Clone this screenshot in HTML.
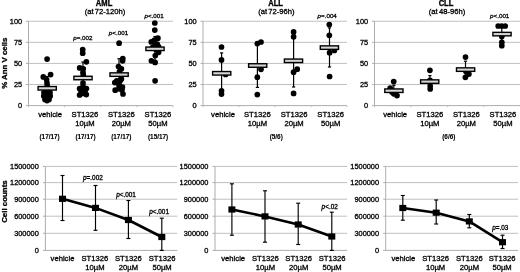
<!DOCTYPE html>
<html><head><meta charset="utf-8"><title>Figure</title>
<style>
html,body{margin:0;padding:0;background:#fff;}
body{width:520px;height:272px;overflow:hidden;}
svg{display:block;font-family:"Liberation Sans",Arial,Helvetica,sans-serif;fill:#000;}
text{stroke:#000;stroke-width:0.3px;}
text.n{stroke-width:0.1px;}
text.p{stroke-width:0.3px;}
</style></head><body>
<svg width="520" height="272" viewBox="0 0 520 272">
<rect x="0" y="0" width="520" height="272" fill="#fff"/>
<line x1="28.50" y1="84.51" x2="173.00" y2="84.51" stroke="#c0c0c0" stroke-width="1"/>
<line x1="28.50" y1="63.42" x2="173.00" y2="63.42" stroke="#c0c0c0" stroke-width="1"/>
<line x1="28.50" y1="42.34" x2="173.00" y2="42.34" stroke="#c0c0c0" stroke-width="1"/>
<line x1="28.50" y1="21.25" x2="173.00" y2="21.25" stroke="#c0c0c0" stroke-width="1"/>
<line x1="28.50" y1="21.25" x2="28.50" y2="105.60" stroke="#adadad" stroke-width="1"/>
<line x1="28.50" y1="105.60" x2="173.00" y2="105.60" stroke="#adadad" stroke-width="1"/>
<line x1="26.00" y1="105.60" x2="28.50" y2="105.60" stroke="#adadad" stroke-width="1"/>
<text x="22.20" y="107.90" font-size="7.4" text-anchor="end">0</text>
<line x1="26.00" y1="84.51" x2="28.50" y2="84.51" stroke="#adadad" stroke-width="1"/>
<text x="22.20" y="86.81" font-size="7.4" text-anchor="end">25</text>
<line x1="26.00" y1="63.42" x2="28.50" y2="63.42" stroke="#adadad" stroke-width="1"/>
<text x="22.20" y="65.72" font-size="7.4" text-anchor="end">50</text>
<line x1="26.00" y1="42.34" x2="28.50" y2="42.34" stroke="#adadad" stroke-width="1"/>
<text x="22.20" y="44.64" font-size="7.4" text-anchor="end">75</text>
<line x1="26.00" y1="21.25" x2="28.50" y2="21.25" stroke="#adadad" stroke-width="1"/>
<text x="22.20" y="23.55" font-size="7.4" text-anchor="end">100</text>
<line x1="28.50" y1="105.60" x2="28.50" y2="107.20" stroke="#c0c0c0" stroke-width="1"/>
<line x1="64.62" y1="105.60" x2="64.62" y2="107.20" stroke="#c0c0c0" stroke-width="1"/>
<line x1="100.75" y1="105.60" x2="100.75" y2="107.20" stroke="#c0c0c0" stroke-width="1"/>
<line x1="136.88" y1="105.60" x2="136.88" y2="107.20" stroke="#c0c0c0" stroke-width="1"/>
<line x1="173.00" y1="105.60" x2="173.00" y2="107.20" stroke="#c0c0c0" stroke-width="1"/>
<text x="50.10" y="116.70" font-size="7.65" text-anchor="middle">vehicle</text>
<text x="85.00" y="116.70" font-size="7.65" text-anchor="middle">ST1326</text>
<text x="85.00" y="126.10" font-size="7.65" text-anchor="middle">10µM</text>
<text x="121.30" y="116.70" font-size="7.65" text-anchor="middle">ST1326</text>
<text x="121.30" y="126.10" font-size="7.65" text-anchor="middle">20µM</text>
<text x="158.00" y="116.70" font-size="7.65" text-anchor="middle">ST1326</text>
<text x="158.00" y="126.10" font-size="7.65" text-anchor="middle">50µM</text>
<text transform="translate(104.05,5.80) scale(1,1.12)" font-size="7.6" font-weight="bold" text-anchor="middle">AML</text>
<text x="105.00" y="14.30" font-size="7.65" text-anchor="middle" word-spacing="-0.9">(at 72-120h)</text>
<text x="49.60" y="139.10" font-size="6.4" text-anchor="middle" font-weight="bold" class="n">(17/17)</text>
<text x="85.50" y="139.10" font-size="6.4" text-anchor="middle" font-weight="bold" class="n">(17/17)</text>
<text x="121.30" y="139.10" font-size="6.4" text-anchor="middle" font-weight="bold" class="n">(17/17)</text>
<text x="158.10" y="139.10" font-size="6.4" text-anchor="middle" font-weight="bold" class="n">(15/17)</text>
<text transform="translate(6.9,63.2) rotate(-90)" font-size="7.85" font-weight="bold" text-anchor="middle">% Ann V cells</text>
<line x1="47.20" y1="76.50" x2="47.20" y2="100.00" stroke="#000" stroke-width="1.2"/>
<line x1="45.60" y1="76.50" x2="48.80" y2="76.50" stroke="#000" stroke-width="1.2"/>
<line x1="45.60" y1="100.00" x2="48.80" y2="100.00" stroke="#000" stroke-width="1.2"/>
<line x1="83.00" y1="62.00" x2="83.00" y2="94.00" stroke="#000" stroke-width="1.2"/>
<line x1="81.40" y1="62.00" x2="84.60" y2="62.00" stroke="#000" stroke-width="1.2"/>
<line x1="81.40" y1="94.00" x2="84.60" y2="94.00" stroke="#000" stroke-width="1.2"/>
<line x1="119.00" y1="58.70" x2="119.00" y2="91.00" stroke="#000" stroke-width="1.2"/>
<line x1="117.40" y1="58.70" x2="120.60" y2="58.70" stroke="#000" stroke-width="1.2"/>
<line x1="117.40" y1="91.00" x2="120.60" y2="91.00" stroke="#000" stroke-width="1.2"/>
<line x1="155.00" y1="36.50" x2="155.00" y2="61.00" stroke="#000" stroke-width="1.2"/>
<line x1="153.40" y1="36.50" x2="156.60" y2="36.50" stroke="#000" stroke-width="1.2"/>
<line x1="153.40" y1="61.00" x2="156.60" y2="61.00" stroke="#000" stroke-width="1.2"/>
<circle cx="47.10" cy="59.10" r="2.85" fill="#000"/>
<circle cx="50.60" cy="74.60" r="2.85" fill="#000"/>
<circle cx="43.30" cy="76.90" r="2.85" fill="#000"/>
<circle cx="46.60" cy="79.50" r="2.85" fill="#000"/>
<circle cx="47.00" cy="83.00" r="2.85" fill="#000"/>
<circle cx="47.20" cy="86.00" r="2.85" fill="#000"/>
<circle cx="47.00" cy="91.00" r="2.85" fill="#000"/>
<circle cx="44.00" cy="92.50" r="2.85" fill="#000"/>
<circle cx="50.00" cy="92.50" r="2.85" fill="#000"/>
<circle cx="43.80" cy="96.00" r="2.85" fill="#000"/>
<circle cx="50.20" cy="96.00" r="2.85" fill="#000"/>
<circle cx="47.00" cy="95.50" r="2.85" fill="#000"/>
<circle cx="47.00" cy="98.00" r="2.85" fill="#000"/>
<circle cx="45.00" cy="99.50" r="2.85" fill="#000"/>
<circle cx="49.00" cy="99.50" r="2.85" fill="#000"/>
<circle cx="47.00" cy="100.60" r="2.85" fill="#000"/>
<circle cx="46.00" cy="93.00" r="2.85" fill="#000"/>
<circle cx="82.70" cy="49.60" r="2.85" fill="#000"/>
<circle cx="82.70" cy="53.20" r="2.85" fill="#000"/>
<circle cx="86.40" cy="61.80" r="2.85" fill="#000"/>
<circle cx="79.70" cy="67.90" r="2.85" fill="#000"/>
<circle cx="83.20" cy="68.80" r="2.85" fill="#000"/>
<circle cx="83.00" cy="72.50" r="2.85" fill="#000"/>
<circle cx="83.30" cy="75.00" r="2.85" fill="#000"/>
<circle cx="83.00" cy="83.00" r="2.85" fill="#000"/>
<circle cx="83.00" cy="86.50" r="2.85" fill="#000"/>
<circle cx="79.60" cy="88.60" r="2.85" fill="#000"/>
<circle cx="86.40" cy="88.60" r="2.85" fill="#000"/>
<circle cx="83.00" cy="91.50" r="2.85" fill="#000"/>
<circle cx="79.60" cy="95.00" r="2.85" fill="#000"/>
<circle cx="86.30" cy="94.60" r="2.85" fill="#000"/>
<circle cx="83.00" cy="93.50" r="2.85" fill="#000"/>
<circle cx="81.00" cy="91.00" r="2.85" fill="#000"/>
<circle cx="85.00" cy="91.00" r="2.85" fill="#000"/>
<circle cx="119.10" cy="43.20" r="2.85" fill="#000"/>
<circle cx="122.80" cy="58.50" r="2.85" fill="#000"/>
<circle cx="122.60" cy="60.80" r="2.85" fill="#000"/>
<circle cx="118.50" cy="66.50" r="2.85" fill="#000"/>
<circle cx="121.40" cy="68.80" r="2.85" fill="#000"/>
<circle cx="119.50" cy="71.50" r="2.85" fill="#000"/>
<circle cx="121.40" cy="79.00" r="2.85" fill="#000"/>
<circle cx="116.80" cy="80.80" r="2.85" fill="#000"/>
<circle cx="114.80" cy="82.60" r="2.85" fill="#000"/>
<circle cx="119.00" cy="84.70" r="2.85" fill="#000"/>
<circle cx="122.40" cy="87.00" r="2.85" fill="#000"/>
<circle cx="115.20" cy="90.20" r="2.85" fill="#000"/>
<circle cx="122.00" cy="90.00" r="2.85" fill="#000"/>
<circle cx="123.00" cy="94.00" r="2.85" fill="#000"/>
<circle cx="119.00" cy="88.00" r="2.85" fill="#000"/>
<circle cx="118.00" cy="82.00" r="2.85" fill="#000"/>
<circle cx="120.00" cy="81.00" r="2.85" fill="#000"/>
<circle cx="154.80" cy="23.00" r="2.85" fill="#000"/>
<circle cx="154.80" cy="30.10" r="2.85" fill="#000"/>
<circle cx="157.90" cy="38.20" r="2.85" fill="#000"/>
<circle cx="154.50" cy="40.00" r="2.85" fill="#000"/>
<circle cx="151.30" cy="41.90" r="2.85" fill="#000"/>
<circle cx="157.20" cy="44.00" r="2.85" fill="#000"/>
<circle cx="155.00" cy="45.50" r="2.85" fill="#000"/>
<circle cx="158.50" cy="46.50" r="2.85" fill="#000"/>
<circle cx="152.50" cy="47.50" r="2.85" fill="#000"/>
<circle cx="158.60" cy="52.30" r="2.85" fill="#000"/>
<circle cx="155.30" cy="55.60" r="2.85" fill="#000"/>
<circle cx="151.40" cy="60.80" r="2.85" fill="#000"/>
<circle cx="155.10" cy="62.40" r="2.85" fill="#000"/>
<circle cx="155.10" cy="80.80" r="2.85" fill="#000"/>
<circle cx="156.00" cy="49.50" r="2.85" fill="#000"/>
<rect x="38.10" y="86.55" width="18.2" height="3.5" fill="#d6d6d6" stroke="#000" stroke-width="1.4"/>
<rect x="73.90" y="76.25" width="18.2" height="3.5" fill="#d6d6d6" stroke="#000" stroke-width="1.4"/>
<rect x="110.00" y="72.85" width="18.2" height="3.5" fill="#d6d6d6" stroke="#000" stroke-width="1.4"/>
<rect x="145.90" y="47.05" width="18.2" height="3.5" fill="#d6d6d6" stroke="#000" stroke-width="1.4"/>
<text class="p" x="82.80" y="40.00" font-size="6.25" text-anchor="middle"><tspan font-style="italic">p</tspan>=.002</text>
<text class="p" x="118.50" y="35.00" font-size="6.25" text-anchor="middle"><tspan font-style="italic">p</tspan>&lt;.001</text>
<text class="p" x="154.10" y="18.00" font-size="6.25" text-anchor="middle"><tspan font-style="italic">p</tspan>&lt;.001</text>
<line x1="203.00" y1="84.51" x2="347.00" y2="84.51" stroke="#c0c0c0" stroke-width="1"/>
<line x1="203.00" y1="63.42" x2="347.00" y2="63.42" stroke="#c0c0c0" stroke-width="1"/>
<line x1="203.00" y1="42.34" x2="347.00" y2="42.34" stroke="#c0c0c0" stroke-width="1"/>
<line x1="203.00" y1="21.25" x2="347.00" y2="21.25" stroke="#c0c0c0" stroke-width="1"/>
<line x1="203.00" y1="21.25" x2="203.00" y2="105.60" stroke="#adadad" stroke-width="1"/>
<line x1="203.00" y1="105.60" x2="347.00" y2="105.60" stroke="#adadad" stroke-width="1"/>
<line x1="200.50" y1="105.60" x2="203.00" y2="105.60" stroke="#adadad" stroke-width="1"/>
<text x="196.70" y="107.90" font-size="7.4" text-anchor="end">0</text>
<line x1="200.50" y1="84.51" x2="203.00" y2="84.51" stroke="#adadad" stroke-width="1"/>
<text x="196.70" y="86.81" font-size="7.4" text-anchor="end">25</text>
<line x1="200.50" y1="63.42" x2="203.00" y2="63.42" stroke="#adadad" stroke-width="1"/>
<text x="196.70" y="65.72" font-size="7.4" text-anchor="end">50</text>
<line x1="200.50" y1="42.34" x2="203.00" y2="42.34" stroke="#adadad" stroke-width="1"/>
<text x="196.70" y="44.64" font-size="7.4" text-anchor="end">75</text>
<line x1="200.50" y1="21.25" x2="203.00" y2="21.25" stroke="#adadad" stroke-width="1"/>
<text x="196.70" y="23.55" font-size="7.4" text-anchor="end">100</text>
<line x1="203.00" y1="105.60" x2="203.00" y2="107.20" stroke="#c0c0c0" stroke-width="1"/>
<line x1="239.00" y1="105.60" x2="239.00" y2="107.20" stroke="#c0c0c0" stroke-width="1"/>
<line x1="275.00" y1="105.60" x2="275.00" y2="107.20" stroke="#c0c0c0" stroke-width="1"/>
<line x1="311.00" y1="105.60" x2="311.00" y2="107.20" stroke="#c0c0c0" stroke-width="1"/>
<line x1="347.00" y1="105.60" x2="347.00" y2="107.20" stroke="#c0c0c0" stroke-width="1"/>
<text x="223.00" y="116.70" font-size="7.65" text-anchor="middle">vehicle</text>
<text x="257.40" y="116.70" font-size="7.65" text-anchor="middle">ST1326</text>
<text x="257.40" y="126.10" font-size="7.65" text-anchor="middle">10µM</text>
<text x="294.10" y="116.70" font-size="7.65" text-anchor="middle">ST1326</text>
<text x="294.10" y="126.10" font-size="7.65" text-anchor="middle">20µM</text>
<text x="330.70" y="116.70" font-size="7.65" text-anchor="middle">ST1326</text>
<text x="330.70" y="126.10" font-size="7.65" text-anchor="middle">50µM</text>
<text transform="translate(275.60,5.80) scale(1,1.12)" font-size="7.6" font-weight="bold" text-anchor="middle">ALL</text>
<text x="276.40" y="14.30" font-size="7.65" text-anchor="middle" word-spacing="-0.9">(at 72-96h)</text>
<text x="276.20" y="139.10" font-size="6.4" text-anchor="middle" font-weight="bold" class="n">(5/6)</text>
<line x1="221.60" y1="52.90" x2="221.60" y2="91.00" stroke="#000" stroke-width="1.2"/>
<line x1="220.00" y1="52.90" x2="223.20" y2="52.90" stroke="#000" stroke-width="1.2"/>
<line x1="220.00" y1="91.00" x2="223.20" y2="91.00" stroke="#000" stroke-width="1.2"/>
<line x1="257.40" y1="43.00" x2="257.40" y2="87.40" stroke="#000" stroke-width="1.2"/>
<line x1="255.80" y1="43.00" x2="259.00" y2="43.00" stroke="#000" stroke-width="1.2"/>
<line x1="255.80" y1="87.40" x2="259.00" y2="87.40" stroke="#000" stroke-width="1.2"/>
<line x1="293.60" y1="34.00" x2="293.60" y2="87.00" stroke="#000" stroke-width="1.2"/>
<line x1="292.00" y1="34.00" x2="295.20" y2="34.00" stroke="#000" stroke-width="1.2"/>
<line x1="292.00" y1="87.00" x2="295.20" y2="87.00" stroke="#000" stroke-width="1.2"/>
<line x1="329.50" y1="27.90" x2="329.50" y2="67.00" stroke="#000" stroke-width="1.2"/>
<line x1="327.90" y1="27.90" x2="331.10" y2="27.90" stroke="#000" stroke-width="1.2"/>
<line x1="327.90" y1="67.00" x2="331.10" y2="67.00" stroke="#000" stroke-width="1.2"/>
<circle cx="221.50" cy="47.00" r="2.85" fill="#000"/>
<circle cx="221.50" cy="59.90" r="2.85" fill="#000"/>
<circle cx="225.60" cy="74.50" r="2.85" fill="#000"/>
<circle cx="221.50" cy="90.80" r="2.85" fill="#000"/>
<circle cx="221.50" cy="94.10" r="2.85" fill="#000"/>
<circle cx="257.30" cy="43.60" r="2.85" fill="#000"/>
<circle cx="261.00" cy="42.00" r="2.85" fill="#000"/>
<circle cx="261.00" cy="69.30" r="2.85" fill="#000"/>
<circle cx="257.30" cy="77.20" r="2.85" fill="#000"/>
<circle cx="257.30" cy="94.60" r="2.85" fill="#000"/>
<circle cx="293.60" cy="31.90" r="2.85" fill="#000"/>
<circle cx="293.60" cy="36.80" r="2.85" fill="#000"/>
<circle cx="297.20" cy="69.20" r="2.85" fill="#000"/>
<circle cx="293.60" cy="72.20" r="2.85" fill="#000"/>
<circle cx="293.60" cy="93.40" r="2.85" fill="#000"/>
<circle cx="329.30" cy="24.60" r="2.85" fill="#000"/>
<circle cx="329.30" cy="35.30" r="2.85" fill="#000"/>
<circle cx="334.40" cy="50.40" r="2.85" fill="#000"/>
<circle cx="329.60" cy="52.70" r="2.85" fill="#000"/>
<circle cx="329.60" cy="76.50" r="2.85" fill="#000"/>
<rect x="212.60" y="71.55" width="18.2" height="3.5" fill="#d6d6d6" stroke="#000" stroke-width="1.4"/>
<rect x="248.60" y="63.75" width="18.2" height="3.5" fill="#d6d6d6" stroke="#000" stroke-width="1.4"/>
<rect x="284.40" y="59.05" width="18.2" height="3.5" fill="#d6d6d6" stroke="#000" stroke-width="1.4"/>
<rect x="320.30" y="45.85" width="18.2" height="3.5" fill="#d6d6d6" stroke="#000" stroke-width="1.4"/>
<text class="p" x="327.20" y="18.00" font-size="6.25" text-anchor="middle"><tspan font-style="italic">p</tspan>=.004</text>
<line x1="374.50" y1="84.51" x2="520.00" y2="84.51" stroke="#c0c0c0" stroke-width="1"/>
<line x1="374.50" y1="63.42" x2="520.00" y2="63.42" stroke="#c0c0c0" stroke-width="1"/>
<line x1="374.50" y1="42.34" x2="520.00" y2="42.34" stroke="#c0c0c0" stroke-width="1"/>
<line x1="374.50" y1="21.25" x2="520.00" y2="21.25" stroke="#c0c0c0" stroke-width="1"/>
<line x1="374.50" y1="21.25" x2="374.50" y2="105.60" stroke="#adadad" stroke-width="1"/>
<line x1="374.50" y1="105.60" x2="520.00" y2="105.60" stroke="#adadad" stroke-width="1"/>
<line x1="372.00" y1="105.60" x2="374.50" y2="105.60" stroke="#adadad" stroke-width="1"/>
<text x="368.20" y="107.90" font-size="7.4" text-anchor="end">0</text>
<line x1="372.00" y1="84.51" x2="374.50" y2="84.51" stroke="#adadad" stroke-width="1"/>
<text x="368.20" y="86.81" font-size="7.4" text-anchor="end">25</text>
<line x1="372.00" y1="63.42" x2="374.50" y2="63.42" stroke="#adadad" stroke-width="1"/>
<text x="368.20" y="65.72" font-size="7.4" text-anchor="end">50</text>
<line x1="372.00" y1="42.34" x2="374.50" y2="42.34" stroke="#adadad" stroke-width="1"/>
<text x="368.20" y="44.64" font-size="7.4" text-anchor="end">75</text>
<line x1="372.00" y1="21.25" x2="374.50" y2="21.25" stroke="#adadad" stroke-width="1"/>
<text x="368.20" y="23.55" font-size="7.4" text-anchor="end">100</text>
<line x1="374.50" y1="105.60" x2="374.50" y2="107.20" stroke="#c0c0c0" stroke-width="1"/>
<line x1="410.88" y1="105.60" x2="410.88" y2="107.20" stroke="#c0c0c0" stroke-width="1"/>
<line x1="447.25" y1="105.60" x2="447.25" y2="107.20" stroke="#c0c0c0" stroke-width="1"/>
<line x1="483.62" y1="105.60" x2="483.62" y2="107.20" stroke="#c0c0c0" stroke-width="1"/>
<text x="395.20" y="116.70" font-size="7.65" text-anchor="middle">vehicle</text>
<text x="429.80" y="116.70" font-size="7.65" text-anchor="middle">ST1326</text>
<text x="429.80" y="126.10" font-size="7.65" text-anchor="middle">10µM</text>
<text x="466.30" y="116.70" font-size="7.65" text-anchor="middle">ST1326</text>
<text x="466.30" y="126.10" font-size="7.65" text-anchor="middle">20µM</text>
<text x="503.00" y="116.70" font-size="7.65" text-anchor="middle">ST1326</text>
<text x="503.00" y="126.10" font-size="7.65" text-anchor="middle">50µM</text>
<text transform="translate(446.00,5.80) scale(1,1.12)" font-size="7.6" font-weight="bold" text-anchor="middle">CLL</text>
<text x="447.00" y="14.30" font-size="7.65" text-anchor="middle" word-spacing="-0.9">(at 48-96h)</text>
<text x="448.80" y="139.10" font-size="6.4" text-anchor="middle" font-weight="bold" class="n">(6/6)</text>
<line x1="393.80" y1="85.30" x2="393.80" y2="95.00" stroke="#000" stroke-width="1.2"/>
<line x1="392.20" y1="85.30" x2="395.40" y2="85.30" stroke="#000" stroke-width="1.2"/>
<line x1="392.20" y1="95.00" x2="395.40" y2="95.00" stroke="#000" stroke-width="1.2"/>
<line x1="429.90" y1="75.60" x2="429.90" y2="88.00" stroke="#000" stroke-width="1.2"/>
<line x1="428.30" y1="75.60" x2="431.50" y2="75.60" stroke="#000" stroke-width="1.2"/>
<line x1="428.30" y1="88.00" x2="431.50" y2="88.00" stroke="#000" stroke-width="1.2"/>
<line x1="465.50" y1="61.20" x2="465.50" y2="77.00" stroke="#000" stroke-width="1.2"/>
<line x1="463.90" y1="61.20" x2="467.10" y2="61.20" stroke="#000" stroke-width="1.2"/>
<line x1="463.90" y1="77.00" x2="467.10" y2="77.00" stroke="#000" stroke-width="1.2"/>
<line x1="501.80" y1="27.50" x2="501.80" y2="41.00" stroke="#000" stroke-width="1.2"/>
<line x1="500.20" y1="27.50" x2="503.40" y2="27.50" stroke="#000" stroke-width="1.2"/>
<line x1="500.20" y1="41.00" x2="503.40" y2="41.00" stroke="#000" stroke-width="1.2"/>
<circle cx="393.70" cy="81.60" r="2.85" fill="#000"/>
<circle cx="390.20" cy="88.20" r="2.85" fill="#000"/>
<circle cx="393.80" cy="93.80" r="2.85" fill="#000"/>
<circle cx="397.00" cy="95.60" r="2.85" fill="#000"/>
<circle cx="395.00" cy="92.50" r="2.85" fill="#000"/>
<circle cx="392.00" cy="92.00" r="2.85" fill="#000"/>
<circle cx="429.90" cy="70.30" r="2.85" fill="#000"/>
<circle cx="430.00" cy="80.40" r="2.85" fill="#000"/>
<circle cx="430.20" cy="86.00" r="2.85" fill="#000"/>
<circle cx="430.20" cy="89.00" r="2.85" fill="#000"/>
<circle cx="465.50" cy="57.10" r="2.85" fill="#000"/>
<circle cx="468.90" cy="74.10" r="2.85" fill="#000"/>
<circle cx="465.40" cy="77.30" r="2.85" fill="#000"/>
<circle cx="466.00" cy="71.50" r="2.85" fill="#000"/>
<circle cx="498.20" cy="26.00" r="2.85" fill="#000"/>
<circle cx="501.70" cy="26.00" r="2.85" fill="#000"/>
<circle cx="505.20" cy="26.00" r="2.85" fill="#000"/>
<circle cx="501.80" cy="36.60" r="2.85" fill="#000"/>
<circle cx="501.80" cy="42.30" r="2.85" fill="#000"/>
<circle cx="501.80" cy="45.70" r="2.85" fill="#000"/>
<rect x="384.80" y="88.95" width="18.2" height="3.5" fill="#d6d6d6" stroke="#000" stroke-width="1.4"/>
<rect x="420.60" y="79.85" width="18.2" height="3.5" fill="#d6d6d6" stroke="#000" stroke-width="1.4"/>
<rect x="456.50" y="67.85" width="18.2" height="3.5" fill="#d6d6d6" stroke="#000" stroke-width="1.4"/>
<rect x="492.90" y="32.35" width="18.2" height="3.5" fill="#d6d6d6" stroke="#000" stroke-width="1.4"/>
<text class="p" x="499.70" y="18.00" font-size="6.25" text-anchor="middle"><tspan font-style="italic">p</tspan>&lt;.001</text>
<line x1="45.40" y1="233.30" x2="177.30" y2="233.30" stroke="#c0c0c0" stroke-width="1"/>
<line x1="45.40" y1="216.20" x2="177.30" y2="216.20" stroke="#c0c0c0" stroke-width="1"/>
<line x1="45.40" y1="199.20" x2="177.30" y2="199.20" stroke="#c0c0c0" stroke-width="1"/>
<line x1="45.40" y1="182.60" x2="177.30" y2="182.60" stroke="#c0c0c0" stroke-width="1"/>
<line x1="45.40" y1="166.40" x2="177.30" y2="166.40" stroke="#c0c0c0" stroke-width="1"/>
<line x1="45.40" y1="166.50" x2="45.40" y2="250.40" stroke="#adadad" stroke-width="1"/>
<line x1="45.40" y1="250.40" x2="177.30" y2="250.40" stroke="#adadad" stroke-width="1"/>
<line x1="42.90" y1="250.40" x2="45.40" y2="250.40" stroke="#adadad" stroke-width="1"/>
<text x="38.80" y="252.70" font-size="7.4" text-anchor="end">0</text>
<line x1="42.90" y1="233.30" x2="45.40" y2="233.30" stroke="#adadad" stroke-width="1"/>
<text x="38.80" y="235.60" font-size="7.4" text-anchor="end">300000</text>
<line x1="42.90" y1="216.20" x2="45.40" y2="216.20" stroke="#adadad" stroke-width="1"/>
<text x="38.80" y="218.50" font-size="7.4" text-anchor="end">600000</text>
<line x1="42.90" y1="199.20" x2="45.40" y2="199.20" stroke="#adadad" stroke-width="1"/>
<text x="38.80" y="201.50" font-size="7.4" text-anchor="end">900000</text>
<line x1="42.90" y1="182.60" x2="45.40" y2="182.60" stroke="#adadad" stroke-width="1"/>
<text x="38.80" y="184.90" font-size="7.4" text-anchor="end">1200000</text>
<line x1="42.90" y1="166.40" x2="45.40" y2="166.40" stroke="#adadad" stroke-width="1"/>
<text x="38.80" y="168.70" font-size="7.4" text-anchor="end">1500000</text>
<text transform="translate(6.7,201.6) rotate(-90)" font-size="7.9" font-weight="bold" text-anchor="middle">Cell counts</text>
<line x1="62.50" y1="175.50" x2="62.50" y2="220.50" stroke="#000" stroke-width="1.15"/>
<line x1="60.50" y1="175.50" x2="64.50" y2="175.50" stroke="#000" stroke-width="1.15"/>
<line x1="60.50" y1="220.50" x2="64.50" y2="220.50" stroke="#000" stroke-width="1.15"/>
<line x1="95.50" y1="185.50" x2="95.50" y2="230.30" stroke="#000" stroke-width="1.15"/>
<line x1="93.50" y1="185.50" x2="97.50" y2="185.50" stroke="#000" stroke-width="1.15"/>
<line x1="93.50" y1="230.30" x2="97.50" y2="230.30" stroke="#000" stroke-width="1.15"/>
<line x1="128.40" y1="200.50" x2="128.40" y2="238.50" stroke="#000" stroke-width="1.15"/>
<line x1="126.40" y1="200.50" x2="130.40" y2="200.50" stroke="#000" stroke-width="1.15"/>
<line x1="126.40" y1="238.50" x2="130.40" y2="238.50" stroke="#000" stroke-width="1.15"/>
<line x1="161.80" y1="218.20" x2="161.80" y2="250.40" stroke="#000" stroke-width="1.15"/>
<line x1="159.80" y1="218.20" x2="163.80" y2="218.20" stroke="#000" stroke-width="1.15"/>
<line x1="159.80" y1="250.40" x2="163.80" y2="250.40" stroke="#000" stroke-width="1.15"/>
<polyline points="62.50,198.80 95.50,207.90 128.40,220.00 161.80,237.00" fill="none" stroke="#000" stroke-width="2.6" stroke-linejoin="round"/>
<rect x="59.00" y="195.70" width="7" height="6.2" fill="#000"/>
<rect x="92.00" y="204.80" width="7" height="6.2" fill="#000"/>
<rect x="124.90" y="216.90" width="7" height="6.2" fill="#000"/>
<rect x="158.30" y="233.90" width="7" height="6.2" fill="#000"/>
<text x="62.50" y="261.30" font-size="7.65" text-anchor="middle">vehicle</text>
<text x="94.90" y="261.30" font-size="7.65" text-anchor="middle">ST1326</text>
<text x="94.90" y="270.30" font-size="7.65" text-anchor="middle">10µM</text>
<text x="128.40" y="261.30" font-size="7.65" text-anchor="middle">ST1326</text>
<text x="128.40" y="270.30" font-size="7.65" text-anchor="middle">20µM</text>
<text x="162.10" y="261.30" font-size="7.65" text-anchor="middle">ST1326</text>
<text x="162.10" y="270.30" font-size="7.65" text-anchor="middle">50µM</text>
<text class="p" x="92.90" y="180.00" font-size="6.4" text-anchor="middle"><tspan font-style="italic">p</tspan>=.002</text>
<text class="p" x="126.00" y="197.00" font-size="6.4" text-anchor="middle"><tspan font-style="italic">p</tspan>&lt;.001</text>
<text class="p" x="159.10" y="214.00" font-size="6.4" text-anchor="middle"><tspan font-style="italic">p</tspan>&lt;.001</text>
<line x1="215.00" y1="233.30" x2="347.20" y2="233.30" stroke="#c0c0c0" stroke-width="1"/>
<line x1="215.00" y1="216.20" x2="347.20" y2="216.20" stroke="#c0c0c0" stroke-width="1"/>
<line x1="215.00" y1="199.20" x2="347.20" y2="199.20" stroke="#c0c0c0" stroke-width="1"/>
<line x1="215.00" y1="182.60" x2="347.20" y2="182.60" stroke="#c0c0c0" stroke-width="1"/>
<line x1="215.00" y1="166.40" x2="347.20" y2="166.40" stroke="#c0c0c0" stroke-width="1"/>
<line x1="215.00" y1="166.50" x2="215.00" y2="250.40" stroke="#adadad" stroke-width="1"/>
<line x1="215.00" y1="250.40" x2="347.20" y2="250.40" stroke="#adadad" stroke-width="1"/>
<line x1="212.50" y1="250.40" x2="215.00" y2="250.40" stroke="#adadad" stroke-width="1"/>
<text x="208.40" y="252.70" font-size="7.4" text-anchor="end">0</text>
<line x1="212.50" y1="233.30" x2="215.00" y2="233.30" stroke="#adadad" stroke-width="1"/>
<text x="208.40" y="235.60" font-size="7.4" text-anchor="end">300000</text>
<line x1="212.50" y1="216.20" x2="215.00" y2="216.20" stroke="#adadad" stroke-width="1"/>
<text x="208.40" y="218.50" font-size="7.4" text-anchor="end">600000</text>
<line x1="212.50" y1="199.20" x2="215.00" y2="199.20" stroke="#adadad" stroke-width="1"/>
<text x="208.40" y="201.50" font-size="7.4" text-anchor="end">900000</text>
<line x1="212.50" y1="182.60" x2="215.00" y2="182.60" stroke="#adadad" stroke-width="1"/>
<text x="208.40" y="184.90" font-size="7.4" text-anchor="end">1200000</text>
<line x1="212.50" y1="166.40" x2="215.00" y2="166.40" stroke="#adadad" stroke-width="1"/>
<text x="208.40" y="168.70" font-size="7.4" text-anchor="end">1500000</text>
<line x1="231.90" y1="183.80" x2="231.90" y2="235.20" stroke="#000" stroke-width="1.15"/>
<line x1="229.90" y1="183.80" x2="233.90" y2="183.80" stroke="#000" stroke-width="1.15"/>
<line x1="229.90" y1="235.20" x2="233.90" y2="235.20" stroke="#000" stroke-width="1.15"/>
<line x1="265.00" y1="190.80" x2="265.00" y2="242.20" stroke="#000" stroke-width="1.15"/>
<line x1="263.00" y1="190.80" x2="267.00" y2="190.80" stroke="#000" stroke-width="1.15"/>
<line x1="263.00" y1="242.20" x2="267.00" y2="242.20" stroke="#000" stroke-width="1.15"/>
<line x1="298.20" y1="203.20" x2="298.20" y2="244.50" stroke="#000" stroke-width="1.15"/>
<line x1="296.20" y1="203.20" x2="300.20" y2="203.20" stroke="#000" stroke-width="1.15"/>
<line x1="296.20" y1="244.50" x2="300.20" y2="244.50" stroke="#000" stroke-width="1.15"/>
<line x1="331.80" y1="212.20" x2="331.80" y2="250.40" stroke="#000" stroke-width="1.15"/>
<line x1="329.80" y1="212.20" x2="333.80" y2="212.20" stroke="#000" stroke-width="1.15"/>
<line x1="329.80" y1="250.40" x2="333.80" y2="250.40" stroke="#000" stroke-width="1.15"/>
<polyline points="231.90,209.50 265.00,216.40 298.20,224.50 331.80,236.50" fill="none" stroke="#000" stroke-width="2.6" stroke-linejoin="round"/>
<rect x="228.40" y="206.40" width="7" height="6.2" fill="#000"/>
<rect x="261.50" y="213.30" width="7" height="6.2" fill="#000"/>
<rect x="294.70" y="221.40" width="7" height="6.2" fill="#000"/>
<rect x="328.30" y="233.40" width="7" height="6.2" fill="#000"/>
<text x="233.20" y="261.30" font-size="7.65" text-anchor="middle">vehicle</text>
<text x="265.40" y="261.30" font-size="7.65" text-anchor="middle">ST1326</text>
<text x="265.40" y="270.30" font-size="7.65" text-anchor="middle">10µM</text>
<text x="298.70" y="261.30" font-size="7.65" text-anchor="middle">ST1326</text>
<text x="298.70" y="270.30" font-size="7.65" text-anchor="middle">20µM</text>
<text x="332.10" y="261.30" font-size="7.65" text-anchor="middle">ST1326</text>
<text x="332.10" y="270.30" font-size="7.65" text-anchor="middle">50µM</text>
<text class="p" x="329.70" y="209.00" font-size="6.4" text-anchor="middle"><tspan font-style="italic">p</tspan>&lt;.02</text>
<line x1="385.70" y1="233.30" x2="518.20" y2="233.30" stroke="#c0c0c0" stroke-width="1"/>
<line x1="385.70" y1="216.20" x2="518.20" y2="216.20" stroke="#c0c0c0" stroke-width="1"/>
<line x1="385.70" y1="199.20" x2="518.20" y2="199.20" stroke="#c0c0c0" stroke-width="1"/>
<line x1="385.70" y1="182.60" x2="518.20" y2="182.60" stroke="#c0c0c0" stroke-width="1"/>
<line x1="385.70" y1="166.40" x2="518.20" y2="166.40" stroke="#c0c0c0" stroke-width="1"/>
<line x1="385.70" y1="166.50" x2="385.70" y2="250.40" stroke="#adadad" stroke-width="1"/>
<line x1="385.70" y1="250.40" x2="518.20" y2="250.40" stroke="#adadad" stroke-width="1"/>
<line x1="383.20" y1="250.40" x2="385.70" y2="250.40" stroke="#adadad" stroke-width="1"/>
<text x="379.10" y="252.70" font-size="7.4" text-anchor="end">0</text>
<line x1="383.20" y1="233.30" x2="385.70" y2="233.30" stroke="#adadad" stroke-width="1"/>
<text x="379.10" y="235.60" font-size="7.4" text-anchor="end">300000</text>
<line x1="383.20" y1="216.20" x2="385.70" y2="216.20" stroke="#adadad" stroke-width="1"/>
<text x="379.10" y="218.50" font-size="7.4" text-anchor="end">600000</text>
<line x1="383.20" y1="199.20" x2="385.70" y2="199.20" stroke="#adadad" stroke-width="1"/>
<text x="379.10" y="201.50" font-size="7.4" text-anchor="end">900000</text>
<line x1="383.20" y1="182.60" x2="385.70" y2="182.60" stroke="#adadad" stroke-width="1"/>
<text x="379.10" y="184.90" font-size="7.4" text-anchor="end">1200000</text>
<line x1="383.20" y1="166.40" x2="385.70" y2="166.40" stroke="#adadad" stroke-width="1"/>
<text x="379.10" y="168.70" font-size="7.4" text-anchor="end">1500000</text>
<line x1="402.80" y1="195.50" x2="402.80" y2="220.20" stroke="#000" stroke-width="1.15"/>
<line x1="400.80" y1="195.50" x2="404.80" y2="195.50" stroke="#000" stroke-width="1.15"/>
<line x1="400.80" y1="220.20" x2="404.80" y2="220.20" stroke="#000" stroke-width="1.15"/>
<line x1="436.20" y1="200.00" x2="436.20" y2="224.00" stroke="#000" stroke-width="1.15"/>
<line x1="434.20" y1="200.00" x2="438.20" y2="200.00" stroke="#000" stroke-width="1.15"/>
<line x1="434.20" y1="224.00" x2="438.20" y2="224.00" stroke="#000" stroke-width="1.15"/>
<line x1="469.30" y1="214.50" x2="469.30" y2="227.80" stroke="#000" stroke-width="1.15"/>
<line x1="467.30" y1="214.50" x2="471.30" y2="214.50" stroke="#000" stroke-width="1.15"/>
<line x1="467.30" y1="227.80" x2="471.30" y2="227.80" stroke="#000" stroke-width="1.15"/>
<line x1="502.50" y1="235.20" x2="502.50" y2="248.50" stroke="#000" stroke-width="1.15"/>
<line x1="500.50" y1="235.20" x2="504.50" y2="235.20" stroke="#000" stroke-width="1.15"/>
<line x1="500.50" y1="248.50" x2="504.50" y2="248.50" stroke="#000" stroke-width="1.15"/>
<polyline points="402.80,208.00 436.20,212.70 469.30,221.40 502.50,242.20" fill="none" stroke="#000" stroke-width="2.6" stroke-linejoin="round"/>
<rect x="399.30" y="204.90" width="7" height="6.2" fill="#000"/>
<rect x="432.70" y="209.60" width="7" height="6.2" fill="#000"/>
<rect x="465.80" y="218.30" width="7" height="6.2" fill="#000"/>
<rect x="499.00" y="239.10" width="7" height="6.2" fill="#000"/>
<text x="403.40" y="261.30" font-size="7.65" text-anchor="middle">vehicle</text>
<text x="435.60" y="261.30" font-size="7.65" text-anchor="middle">ST1326</text>
<text x="435.60" y="270.30" font-size="7.65" text-anchor="middle">10µM</text>
<text x="469.40" y="261.30" font-size="7.65" text-anchor="middle">ST1326</text>
<text x="469.40" y="270.30" font-size="7.65" text-anchor="middle">20µM</text>
<text x="502.10" y="261.30" font-size="7.65" text-anchor="middle">ST1326</text>
<text x="502.10" y="270.30" font-size="7.65" text-anchor="middle">50µM</text>
<text class="p" x="500.30" y="230.00" font-size="6.4" text-anchor="middle"><tspan font-style="italic">p</tspan>=.03</text>
</svg>
</body></html>
